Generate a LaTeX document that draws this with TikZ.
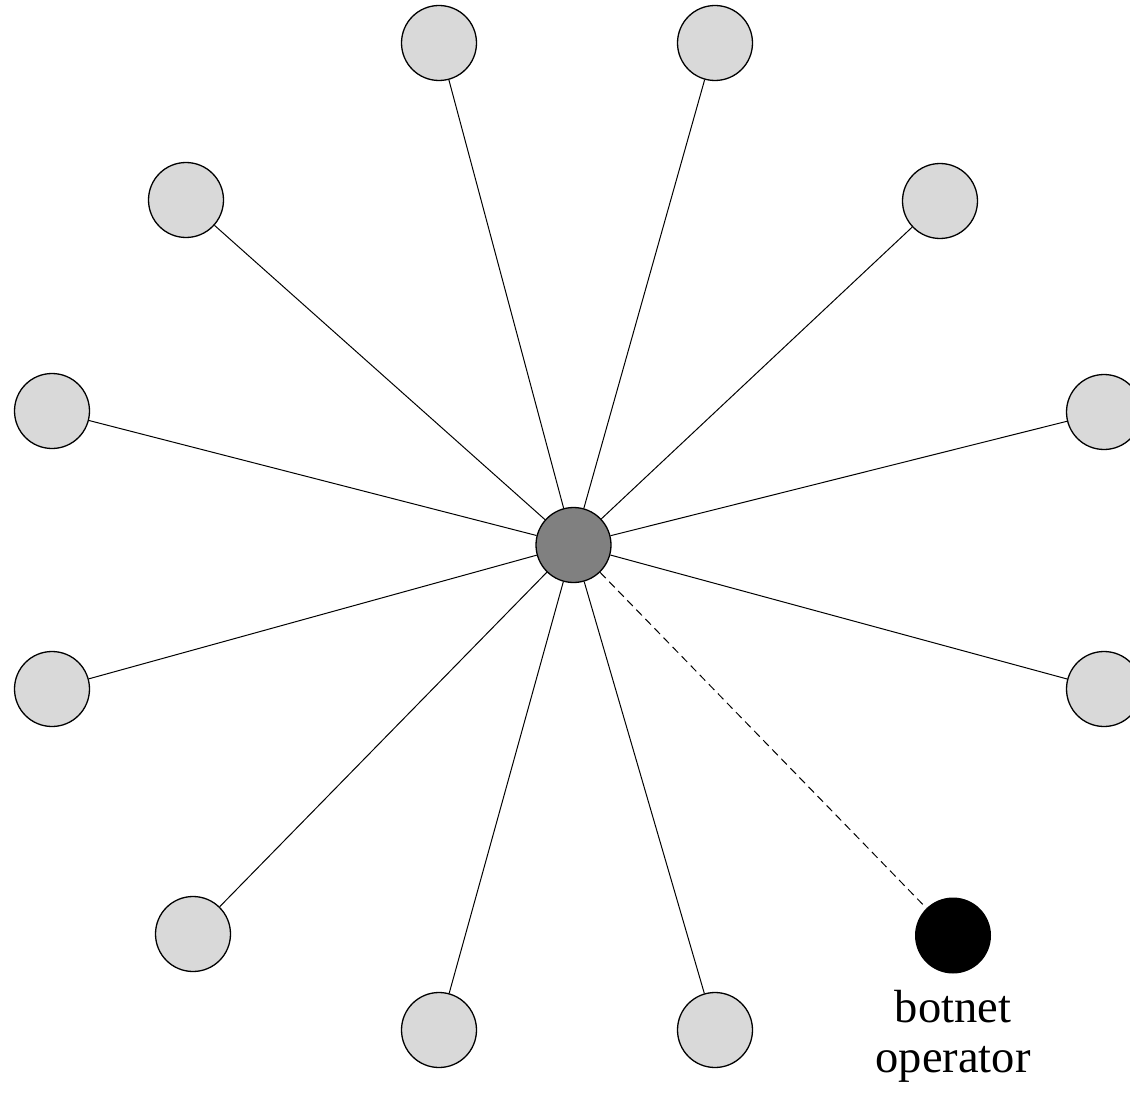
\documentclass[tikz,border=0pt]{standalone}
\usepackage{fontspec}
\setmainfont{Liberation Serif}
\begin{document}
\begin{tikzpicture}[x=1pt,y=-1pt,
  bot/.style={circle,draw=black,line width=1.3pt,fill=botgray,minimum size=75pt,inner sep=0pt},
  hub/.style={circle,draw=black,line width=1.3pt,fill=hubgray,minimum size=75pt,inner sep=0pt},
  oper/.style={circle,draw=none,fill=black,minimum size=76pt,inner sep=0pt},
  link/.style={draw=black,line width=1pt},
  ctrl/.style={draw=black,line width=1pt,dash pattern=on 8pt off 5pt}]
\definecolor{botgray}{HTML}{D9D9D9}
\definecolor{hubgray}{HTML}{808080}
\useasboundingbox (0,0) rectangle (1130,1094);
\node[hub] (c) at (573.5,545) {};
\node[bot] (n1) at (439,43) {};
\node[bot] (n2) at (715,43) {};
\node[bot] (n3) at (186,200) {};
\node[bot] (n4) at (940,201) {};
\node[bot] (n5) at (52,411) {};
\node[bot] (n6) at (1104,412) {};
\node[bot] (n7) at (52,689) {};
\node[bot] (n8) at (1104,689) {};
\node[bot] (n9) at (193,934) {};
\node[bot] (n10) at (439,1030) {};
\node[bot] (n11) at (715,1030) {};
\node[oper] (op) at (953,935.5) {};
\node[font=\fontsize{46.5pt}{50pt}\selectfont,align=center,anchor=north,inner sep=0pt] (lbl) at (953,990) {botnet\\operator};
\foreach \n in {n1,n2,n3,n4,n5,n6,n7,n8,n9,n10,n11}
  \draw[link] (c) -- (\n);
\draw[ctrl] (c) -- (op);
\end{tikzpicture}
\end{document}
